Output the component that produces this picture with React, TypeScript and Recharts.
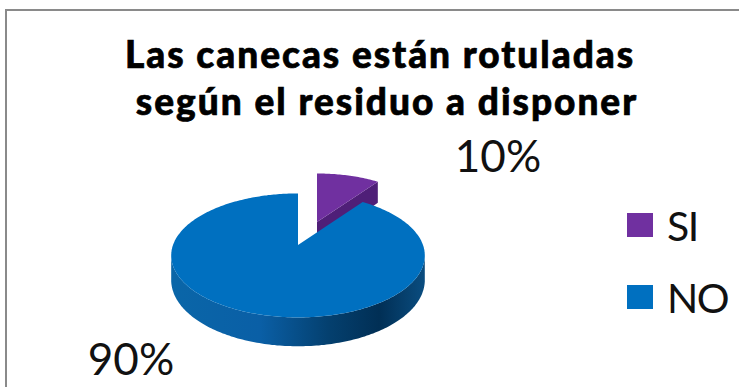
import React from "react";
import { PieChart, Pie, Cell, Legend } from "recharts";

const categories = ["SI", "NO"];
const values = [10, 90];
const colors = ["#7030a0", "#0070c0"];
const titleLines = ["Las canecas están rotuladas", "según el residuo a disponer"];

const chartData = categories.map((name, i) => ({ name, value: values[i] }));

// Perspective of the tilted disc
const TILT = 0.168;
const SQUASH = 0.482;
const DEPTH = 24;
const RAD = Math.PI / 180;
const SLICE_SHIFT: Record<string, [number, number]> = { SI: [19, -23], NO: [0, 0] };
const SLICE_SCALE: Record<string, number> = { SI: 0.94, NO: 1 };
const LABEL_POS: Record<string, [number, number]> = { SI: [498, 172], NO: [131, 375] };

const project = (cx: number, cy: number, r: number, deg: number) => {
  const u = Math.cos(deg * RAD);
  const v = -Math.sin(deg * RAD);
  const s = 1 / (1 - TILT * v);
  return { x: cx + r * u * s, y: cy + r * SQUASH * v * s, v, s };
};

const toPath = (pts: { x: number; y: number }[]) =>
  pts.map((p, i) => `${i ? "L" : "M"}${p.x.toFixed(1)} ${p.y.toFixed(1)}`).join(" ") + " Z";

// Draws one slice as a flattened disc sector with its side wall
function DiscSlice(props: any) {
  const { cx, cy, outerRadius, startAngle, endAngle, fill, name } = props;
  const [dx, dy] = SLICE_SHIFT[name] ?? [0, 0];
  const ox = cx + dx;
  const oy = cy + dy;
  const radius = outerRadius * (SLICE_SCALE[name] ?? 1);
  const rim: ReturnType<typeof project>[] = [];
  const steps = Math.max(2, Math.ceil(Math.abs(endAngle - startAngle)));
  for (let i = 0; i <= steps; i++) {
    rim.push(project(ox, oy, radius, startAngle + ((endAngle - startAngle) * i) / steps));
  }
  const front = rim.filter((p) => p.v > TILT);
  const drop = (p: { x: number; y: number; s?: number }) => ({ x: p.x, y: p.y + DEPTH * (p.s ?? 1) });
  const apex = { x: ox, y: oy };
  const last = rim[rim.length - 1];
  return (
    <g>
      {name === "NO" && (
        <defs>
          <linearGradient id="wallBlue" x1="0" y1="0" x2="1" y2="0">
            <stop offset="0" stopColor="#0a66a8" />
            <stop offset="0.35" stopColor="#0a5fa6" />
            <stop offset="0.62" stopColor="#04406f" />
            <stop offset="0.82" stopColor="#012f55" />
            <stop offset="1" stopColor="#0a4d80" />
          </linearGradient>
        </defs>
      )}
      {front.length > 1 && <path d={toPath([...front, ...front.map(drop).reverse()])} fill="url(#wallBlue)" />}
      {name === "SI" && <path d={toPath([apex, last, drop(last), drop(apex)])} fill="#4f1f78" />}
      <path d={toPath([apex, ...rim])} fill={fill} />
    </g>
  );
}

function PercentLabel(props: any) {
  const { name, percent } = props;
  const [x, y] = LABEL_POS[name];
  return (
    <text x={x} y={y} textAnchor="middle" fontFamily="Lato, sans-serif" fontSize={44} fill="#111">
      {`${Math.round(percent * 100)}%`}
    </text>
  );
}

function LegendList({ payload }: any) {
  return (
    <div style={{ fontFamily: "Lato, sans-serif", fontSize: 41, letterSpacing: -1.5, color: "#111" }}>
      {(payload ?? []).map((item: any) => (
        <div key={item.value} style={{ display: "flex", alignItems: "center", height: 72 }}>
          <span style={{ width: 26, height: 24, background: item.color, marginRight: 14 }} />
          <span>{item.value}</span>
        </div>
      ))}
    </div>
  );
}

const titleStyle = {
  textAnchor: "middle" as const,
  fontFamily: "Lato, sans-serif",
  fontWeight: 900,
  fontSize: 37,
  letterSpacing: 2,
  fill: "#000",
  stroke: "#000",
  strokeWidth: 0.7,
};

export default function App() {
  return (
    <div style={{ position: "absolute", left: 0, top: 0, width: 739, height: 387, background: "#fff", overflow: "hidden" }}>
      <div style={{ position: "absolute", left: 5, top: 9, width: 800, height: 420, border: "2px solid #8a8a8a", boxSizing: "border-box" }} />
      <PieChart width={739} height={387} margin={{ top: 0, right: 0, bottom: 0, left: 0 }}>
        <text x={380} y={68} style={titleStyle}>
          {titleLines[0]}
        </text>
        <text x={387} y={115} style={titleStyle}>
          {titleLines[1]}
        </text>
        <Pie
          data={chartData}
          dataKey="value"
          nameKey="name"
          cx={298}
          cy={245}
          outerRadius={125}
          startAngle={90}
          endAngle={-270}
          stroke="none"
          isAnimationActive={false}
          shape={DiscSlice}
          label={PercentLabel}
          labelLine={false}
        >
          {chartData.map((d, i) => (
            <Cell key={d.name} fill={colors[i]} />
          ))}
        </Pie>
        <Legend
          layout="vertical"
          align="right"
          verticalAlign="top"
          itemSorter={null}
          content={LegendList}
          wrapperStyle={{ left: 627, top: 189, width: 112 }}
        />
      </PieChart>
    </div>
  );
}
